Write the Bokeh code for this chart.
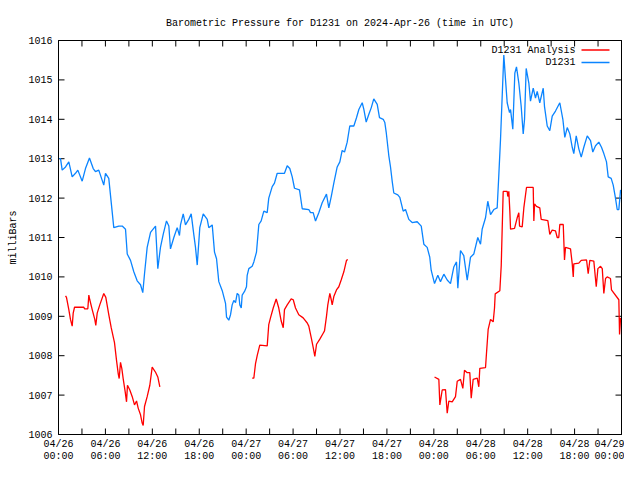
import pandas as pd
from bokeh.plotting import figure
from bokeh.models import (Range1d, FixedTicker, DatetimeTickFormatter, LinearAxis, DatetimeAxis,
                          CustomJSTickFormatter, Label, Arrow)
from bokeh.embed import file_html
from bokeh.resources import INLINE

TITLE = "Barometric Pressure for D1231 on 2024-Apr-26 (time in UTC)"
START = pd.Timestamp("2024-04-26 00:00")
SERIES_NAMES = ["D1231 Analysis", "D1231"]
Y_LABEL = "milliBars"

# D1231 (hours since start, mbar)
blue_hours = [0.1, 0.26, 0.47, 0.9, 1.32, 1.75, 2.17, 2.47, 3.03, 3.45, 3.96, 4.44, 4.73, 5.15, 5.79,
              6.01, 6.43, 7.07, 7.71, 8.15, 8.57, 8.79, 9.21, 9.63, 10.06, 10.49, 10.78, 11.0, 11.34,
              11.77, 12.41, 12.70, 13.04, 13.39, 13.81, 14.11, 14.32, 14.75, 15.18, 15.47, 15.60,
              15.95, 16.24, 16.66, 16.97, 17.30, 17.52, 17.74, 18.07, 18.51, 19.02, 19.22, 19.66,
              19.95, 20.21, 20.50, 20.94, 21.36, 21.49, 21.78, 22.0, 22.21, 22.42, 22.64, 22.85,
              23.06, 23.19, 23.37, 23.49, 23.79, 24.04, 24.13, 24.34, 24.77, 24.98, 25.32, 25.62,
              25.92, 26.26, 26.69, 26.89, 27.33, 27.62, 27.97, 28.90, 29.25, 29.58, 29.89, 30.18,
              30.82, 31.17, 32.01, 32.23, 32.57, 32.87, 33.29, 33.72, 34.27, 34.57, 34.88, 35.21,
              35.64, 35.98, 36.28, 36.58, 36.92, 37.25, 37.77, 38.11, 38.41, 38.84, 39.05, 39.35,
              39.69, 39.99, 40.32, 40.76, 41.05, 41.53, 41.73, 41.91, 42.24, 42.46, 42.68, 42.88,
              43.39, 43.65, 44.08, 44.38, 44.80, 45.23, 45.87, 46.39, 46.72, 47.15, 47.48, 47.66,
              48.09, 48.51, 48.85, 49.28, 49.71, 50.13, 50.55, 50.90, 51.07, 51.41, 51.83, 52.27,
              52.69, 53.11, 53.62, 53.97, 54.18, 54.61, 54.90, 55.25, 55.67, 56.10, 56.31, 56.53,
              56.74, 56.95, 57.17, 57.38, 57.68, 57.81, 58.10, 58.36, 58.57, 58.87, 59.17, 59.43,
              59.60, 59.81, 60.15, 60.36, 60.71, 61.0, 61.22, 61.55, 61.99, 62.15, 62.50, 62.83,
              63.14, 63.56, 64.11, 64.50, 64.75, 65.06, 65.39, 65.70, 65.90, 66.21, 66.54, 66.85,
              67.18, 67.62, 68.04, 68.33, 68.68, 69.10, 69.44, 69.74, 70.08, 70.30, 70.68, 70.94,
              71.23, 71.45, 71.66, 71.88]
blue_mbar = [1013.0, 1013.0, 1012.71, 1012.79, 1012.92, 1012.54, 1012.63, 1012.71, 1012.43, 1012.75,
             1013.02, 1012.75, 1012.67, 1012.71, 1012.33, 1012.63, 1012.5, 1011.25, 1011.29, 1011.29,
             1011.21, 1010.58, 1010.42, 1010.13, 1009.9, 1009.8, 1009.6, 1010.08, 1010.75, 1011.13,
             1011.29, 1010.21, 1010.75, 1011.08, 1011.42, 1011.29, 1010.71, 1011.0, 1011.25, 1011.05,
             1011.32, 1011.6, 1011.32, 1011.46, 1011.6, 1011.08, 1010.75, 1010.3, 1011.25, 1011.6,
             1011.46, 1011.25, 1011.32, 1010.63, 1010.46, 1009.88, 1009.65, 1009.33, 1008.98, 1008.9,
             1009.04, 1009.29, 1009.4, 1009.35, 1009.58, 1009.54, 1009.29, 1009.21, 1009.54, 1009.63,
             1009.75, 1010.04, 1010.21, 1010.27, 1010.38, 1010.63, 1011.33, 1011.42, 1011.67, 1011.63,
             1012.0, 1012.29, 1012.38, 1012.63, 1012.63, 1012.82, 1012.75, 1012.54, 1012.25, 1012.21,
             1011.73, 1011.71, 1011.63, 1011.63, 1011.42, 1011.63, 1011.88, 1012.1, 1011.75, 1012.04,
             1012.38, 1012.79, 1012.92, 1013.21, 1013.17, 1013.42, 1013.83, 1013.83, 1014.04, 1014.25,
             1014.42, 1014.25, 1013.93, 1014.13, 1014.29, 1014.52, 1014.38, 1014.04, 1014.0, 1013.92,
             1013.67, 1013.08, 1012.79, 1012.42, 1012.13, 1012.08, 1012.02, 1011.67, 1011.71, 1011.46,
             1011.38, 1011.4, 1011.29, 1010.83, 1010.75, 1010.5, 1010.17, 1009.83, 1010.04, 1009.88,
             1010.07, 1009.92, 1009.83, 1010.25, 1010.38, 1009.71, 1010.67, 1010.54, 1009.92, 1010.5,
             1010.58, 1011.0, 1010.83, 1011.21, 1011.5, 1011.92, 1011.58, 1011.71, 1011.75, 1012.58,
             1013.5, 1014.58, 1015.63, 1015.0, 1014.42, 1014.17, 1014.25, 1013.75, 1015.17, 1015.33,
             1014.92, 1014.33, 1013.63, 1014.0, 1015.29, 1014.92, 1014.46, 1014.79, 1014.54, 1014.71,
             1014.42, 1014.79, 1014.33, 1013.83, 1013.71, 1014.08, 1014.21, 1014.42, 1014.0, 1013.54,
             1013.79, 1013.63, 1013.29, 1013.13, 1013.58, 1013.25, 1013.04, 1013.29, 1013.58, 1013.46,
             1013.17, 1013.33, 1013.42, 1013.29, 1013.13, 1012.92, 1012.54, 1012.5, 1012.33, 1012.0,
             1011.71, 1011.71, 1012.21]

# D1231 Analysis, three separate runs
red1_hours = [0.90, 1.02, 1.32, 1.53, 1.75, 1.88, 2.05, 3.24, 3.33, 3.75, 3.88, 4.0, 4.31, 4.64,
              4.77, 4.95, 5.28, 5.79, 6.05, 6.43, 6.74, 7.16, 7.42, 7.64, 7.76, 7.93, 8.10, 8.27,
              8.53, 8.70, 8.82, 9.12, 9.43, 9.72, 9.98, 10.19, 10.49, 10.70, 10.83, 11.0, 11.34,
              11.68, 11.98, 12.41, 12.70, 12.96]
red1_mbar = [1009.52, 1009.48, 1009.17, 1008.92, 1008.75, 1009.08, 1009.23, 1009.23, 1009.19,
             1009.19, 1009.54, 1009.42, 1009.17, 1008.92, 1008.77, 1009.08, 1009.29, 1009.58,
             1009.48, 1009.04, 1008.71, 1008.33, 1007.88, 1007.54, 1007.42, 1007.83, 1007.67,
             1007.42, 1007.08, 1006.83, 1007.25, 1007.13, 1006.96, 1006.75, 1006.85, 1006.67,
             1006.5, 1006.29, 1006.23, 1006.71, 1006.96, 1007.25, 1007.71, 1007.58, 1007.46, 1007.21]
red2_hours = [24.77, 24.98, 25.19, 25.41, 25.74, 26.69, 26.89, 27.11, 27.46, 27.84, 28.17, 28.48,
              28.74, 28.90, 29.25, 29.76, 30.02, 30.31, 30.73, 31.29, 31.81, 32.01, 32.36, 32.57,
              32.78, 33.0, 33.42, 33.85, 34.02, 34.27, 34.44, 34.70, 34.88, 35.0, 35.21, 35.55,
              35.85, 36.15, 36.49, 36.83, 37.0]
red2_mbar = [1007.43, 1007.43, 1007.79, 1008.0, 1008.27, 1008.25, 1008.79, 1008.96, 1009.21,
             1009.44, 1009.21, 1008.88, 1008.71, 1009.17, 1009.29, 1009.44, 1009.42, 1009.21,
             1009.04, 1008.96, 1008.83, 1008.75, 1008.42, 1008.21, 1007.98, 1008.29, 1008.42,
             1008.57, 1008.63, 1009.0, 1009.29, 1009.58, 1009.42, 1009.29, 1009.5, 1009.67,
             1009.75, 1009.92, 1010.13, 1010.42, 1010.44]
red3_hours = [48.09, 48.64, 48.77, 49.07, 49.49, 49.71, 49.92, 50.35, 50.77, 50.99, 51.41, 51.71,
              51.92, 52.27, 52.60, 52.78, 53.03, 53.55, 53.75, 53.88, 54.61, 54.74, 54.95, 55.25,
              55.59, 55.76, 55.85, 56.44, 56.62, 56.78, 56.87, 57.38, 57.46, 57.59, 57.72, 57.81,
              58.32, 58.66, 58.87, 58.96, 59.30, 59.51, 59.85, 60.71, 60.79, 60.88, 61.13, 61.55,
              61.73, 62.58, 62.83, 63.14, 63.56, 63.78, 63.98, 64.11, 64.55, 64.71, 64.84, 65.48,
              65.70, 65.83, 65.90, 66.54, 66.85, 67.53, 67.74, 67.95, 68.46, 68.77, 68.98, 69.32,
              69.54, 69.74, 69.96, 70.17, 70.59, 70.72, 71.66, 71.75, 71.88]
red3_mbar = [1007.46, 1007.4, 1006.75, 1007.13, 1007.14, 1006.54, 1006.85, 1006.83, 1006.96,
             1007.35, 1007.4, 1007.17, 1007.63, 1007.57, 1007.57, 1006.92, 1007.4, 1007.43,
             1007.21, 1007.68, 1007.7, 1008.08, 1008.67, 1008.92, 1008.86, 1009.21, 1009.57,
             1009.65, 1010.29, 1011.5, 1012.17, 1012.17, 1012.04, 1012.17, 1011.67, 1011.21,
             1011.23, 1011.5, 1011.63, 1011.29, 1011.27, 1011.75, 1012.27, 1012.27, 1011.42,
             1011.85, 1011.79, 1011.75, 1011.46, 1011.43, 1011.08, 1011.19, 1011.17, 1011.0,
             1011.0, 1011.33, 1011.33, 1010.43, 1010.75, 1010.71, 1010.33, 1010.0, 1010.33,
             1010.35, 1010.42, 1010.43, 1010.08, 1010.42, 1010.4, 1009.75, 1010.21, 1010.27,
             1010.21, 1009.58, 1009.96, 1010.0, 1009.96, 1009.67, 1009.42, 1008.54, 1008.96]

x_tick_hours = [0, 6, 12, 18, 24, 30, 36, 42, 48, 54, 60, 66, 72]
x_minor_hours = [3, 9, 15, 21, 27, 33, 39, 45, 51, 57, 63, 69]
y_ticks = [1006, 1007, 1008, 1009, 1010, 1011, 1012, 1013, 1014, 1015, 1016]
X_HOURS = 72
Y_MIN, Y_MAX = 1006, 1016

FONT = "Liberation Mono"
RED = "#ff0000"
BLUE = "#0a84ff"

# layout (pixels)
FRAME_W, FRAME_H = 563, 394
TICK_PX = 6
KEY_TEXT_RIGHT, KEY_LINE_X0, KEY_LINE_X1 = 517, 523, 551
KEY_ROW_Y = [FRAME_H - 9.5, FRAME_H - 22]   # distance of each key row from the frame bottom

NAN = float("nan")
HOUR_MS = 3600 * 1000.0
START_MS = START.value / 10**6


def to_time(hours):
    return [START + pd.Timedelta(hours=h) for h in hours]


def to_ms(hours):
    return [int((START + pd.Timedelta(hours=h)).value // 10**6) for h in hours]


END = START + pd.Timedelta(hours=X_HOURS)
p = figure(width=624, height=464, x_axis_type="datetime", output_backend="svg",
           toolbar_location=None, x_range=Range1d(START, END), y_range=Range1d(Y_MIN, Y_MAX),
           min_border_left=58, min_border_right=3, min_border_top=40, min_border_bottom=24)
p.grid.visible = False
p.background_fill_color = "white"
p.border_fill_color = "white"
p.outline_line_color = "black"
p.outline_line_width = 1

p.title.text = TITLE
p.title.align = "center"
p.title.text_font = FONT
p.title.text_font_size = "10px"
p.title.text_font_style = "normal"
p.title.text_color = "black"
p.title.standoff = 24

xticker = FixedTicker(ticks=to_ms(x_tick_hours), minor_ticks=to_ms(x_minor_hours))
yticker = FixedTicker(ticks=y_ticks, minor_ticks=[])


def dt_fmt(f):
    return DatetimeTickFormatter(microseconds=f, milliseconds=f, seconds=f, minsec=f, minutes=f,
                                 hourmin=f, hours=f, days=f, months=f, years=f)


date_axis = p.xaxis[0]
date_axis.ticker = xticker
date_axis.formatter = dt_fmt("%m/%d")
time_axis = DatetimeAxis(ticker=xticker, formatter=dt_fmt("%H:%M"))
p.add_layout(time_axis, "below")
p.yaxis.ticker = yticker
p.yaxis.axis_label = Y_LABEL

top_axis = LinearAxis(ticker=xticker, formatter=CustomJSTickFormatter(code="return ''"))
right_axis = LinearAxis(ticker=yticker, formatter=CustomJSTickFormatter(code="return ''"))
p.add_layout(top_axis, "above")
p.add_layout(right_axis, "right")

for ax in [date_axis, time_axis, p.yaxis[0], top_axis, right_axis]:
    ax.axis_line_color = "black"
    ax.axis_line_width = 1
    ax.major_tick_line_color = None
    ax.minor_tick_line_color = None
    ax.major_tick_in = 0
    ax.major_tick_out = 0
    ax.minor_tick_in = 0
    ax.minor_tick_out = 0
    ax.major_label_text_font = FONT
    ax.major_label_text_font_size = "10px"
    ax.major_label_text_color = "black"
    ax.axis_label_text_font = FONT
    ax.axis_label_text_font_size = "10px"
    ax.axis_label_text_font_style = "normal"
    ax.axis_label_text_color = "black"

time_axis.axis_line_color = None
date_axis.major_label_standoff = 4
time_axis.major_label_standoff = -2
p.yaxis[0].major_label_standoff = 6
p.yaxis[0].axis_label_standoff = 6
top_axis.major_label_standoff = 0
right_axis.major_label_standoff = 0

# inward tick marks on all four sides: one broken polyline (NaN gaps) built from the tick lists
all_x_ticks = sorted(x_tick_hours + x_minor_hours)
dy = TICK_PX / FRAME_H * (Y_MAX - Y_MIN)
dh = TICK_PX / FRAME_W * X_HOURS
tick_x, tick_y = [], []
for h in all_x_ticks:
    xm = START_MS + h * HOUR_MS
    tick_x += [xm, xm, NAN, xm, xm, NAN]
    tick_y += [Y_MIN, Y_MIN + dy, NAN, Y_MAX - dy, Y_MAX, NAN]
for v in y_ticks:
    tick_x += [START_MS, START_MS + dh * HOUR_MS, NAN,
               START_MS + (X_HOURS - dh) * HOUR_MS, START_MS + X_HOURS * HOUR_MS, NAN]
    tick_y += [v, v, NAN, v, v, NAN]
p.line(tick_x, tick_y, line_color="black", line_width=1)

p.line(to_time(blue_hours), blue_mbar, line_color=BLUE, line_width=1.3)
for hrs, vals in [(red1_hours, red1_mbar), (red2_hours, red2_mbar), (red3_hours, red3_mbar)]:
    p.line(to_time(hrs), vals, line_color=RED, line_width=1.3)

# gnuplot-style key: text first, sample line after it
for name, col, yy in zip(SERIES_NAMES, [RED, BLUE], KEY_ROW_Y):
    p.add_layout(Label(x=KEY_TEXT_RIGHT, y=yy, x_units="screen", y_units="screen", text=name,
                       text_align="right", text_baseline="middle", text_font=FONT,
                       text_font_size="10px", text_color="black"))
    p.add_layout(Arrow(x_start=KEY_LINE_X0, y_start=yy, x_end=KEY_LINE_X1, y_end=yy,
                       start_units="screen", end_units="screen", start=None, end=None,
                       line_color=col, line_width=1.3))

open("out.html", "w").write(file_html(p, INLINE))
